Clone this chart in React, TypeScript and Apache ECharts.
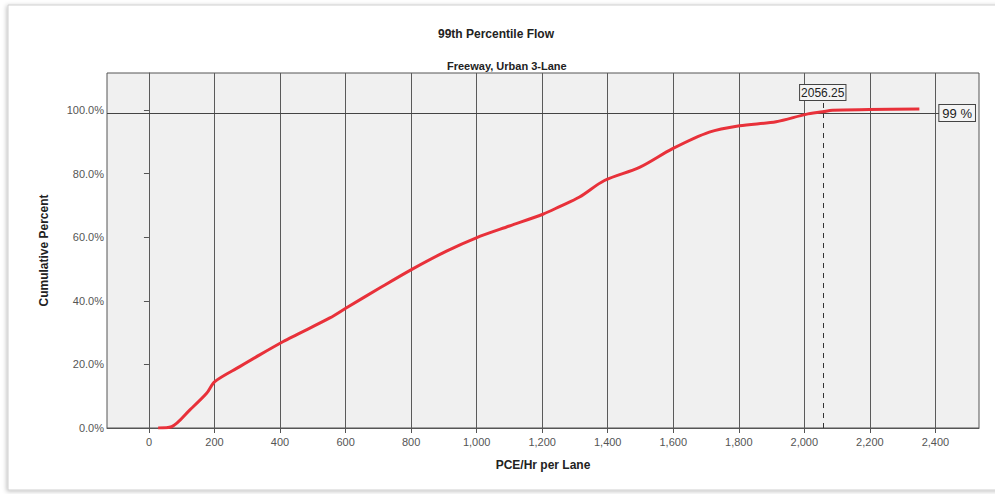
import React, { useEffect, useRef } from "react";
import * as echarts from "echarts";

const titleText = "99th Percentile Flow";
const subtitleText = "Freeway, Urban 3-Lane";
const xName = "PCE/Hr per Lane";
const yName = "Cumulative Percent";

const xTicks = [0, 200, 400, 600, 800, 1000, 1200, 1400, 1600, 1800, 2000, 2200, 2400];
const yTicks = [0, 20, 40, 60, 80, 100];

// [PCE/Hr per Lane, cumulative percent]
const curve: [number, number][] = [
  [28, 0], [69, 0.4], [125, 5.7], [176, 10.9], [201, 14.6], [277, 19.3], [338, 23],
  [410, 27.2], [450, 29.3], [552, 34.6], [603, 37.8], [704, 44], [801, 49.8],
  [908, 55.6], [999, 59.8], [1100, 63.5], [1202, 67.2], [1253, 69.6], [1314, 72.6],
  [1390, 77.8], [1497, 81.9], [1598, 87.8], [1710, 93], [1802, 95], [1914, 96.3],
  [2005, 98.6], [2056, 99.4], [2086, 99.9], [2198, 100.1], [2351, 100.3],
];

const percentile = 99;
const percentileValue = 2056.25;

const xMin = -128;
const xMax = 2533;
const yMax = 111.6;

export default function App() {
  const ref = useRef<HTMLDivElement>(null);
  useEffect(() => {
    if (!ref.current) return;
    const chart = echarts.init(ref.current, null, { renderer: "svg" });
    const font = "'Liberation Sans', Arial, sans-serif";
    chart.setOption({
      animation: false,
      graphic: [
        {
          type: "rect",
          shape: { x: 8, y: 5, width: 1000, height: 485 },
          style: { fill: "#fff", stroke: "#cfcfcf", lineWidth: 1, shadowBlur: 4, shadowColor: "rgba(0,0,0,0.25)", shadowOffsetX: -1, shadowOffsetY: 1 },
          z: -10,
        },
        {
          type: "text",
          left: 503 - 65,
          top: 28,
          style: { text: titleText, font: "bold 12px " + font, fill: "#222" },
        },
        {
          type: "text",
          left: 447,
          top: 60,
          style: { text: subtitleText, font: "bold 11px " + font, fill: "#222" },
        },
      ],
      grid: {
        left: 107,
        top: 73,
        right: 16,
        bottom: 66,
        show: true,
        backgroundColor: "#f0f0f0",
        borderColor: "#555",
        borderWidth: 1,
      },
      xAxis: {
        type: "value",
        min: xMin,
        max: xMax,
        name: xName,
        nameLocation: "middle",
        nameGap: 31,
        nameTextStyle: { fontFamily: font, fontWeight: "bold", fontSize: 12, color: "#222" },
        axisLine: { show: true, onZero: false, lineStyle: { color: "#555" } },
        axisTick: { show: true, length: 5, customValues: xTicks, lineStyle: { color: "#555" } },
        axisLabel: {
          customValues: xTicks,
          fontFamily: font,
          fontSize: 11,
          color: "#555",
          margin: 8,
          formatter: (v: number) => v.toLocaleString("en-US"),
        },
        splitLine: { show: false },
      },
      yAxis: {
        type: "value",
        min: 0,
        max: yMax,
        interval: 20,
        name: yName,
        nameLocation: "middle",
        nameGap: 57,
        nameTextStyle: { fontFamily: font, fontWeight: "bold", fontSize: 12, color: "#222" },
        axisLine: { show: true, lineStyle: { color: "#555" } },
        axisTick: { show: true, length: 5, customValues: yTicks, lineStyle: { color: "#555" } },
        axisLabel: {
          customValues: yTicks,
          fontFamily: font,
          fontSize: 11,
          color: "#555",
          margin: 3,
          formatter: (v: number) => v.toFixed(1) + "%",
        },
        splitLine: { show: false },
      },
      series: [
        {
          type: "line",
          data: [],
          silent: true,
          markLine: {
            silent: true,
            symbol: "none",
            label: { show: false },
            lineStyle: { color: "#5a5a5a", width: 1, type: "solid" },
            data: xTicks.map((v) => ({ xAxis: v })),
          },
        },
        {
          type: "line",
          data: [],
          silent: true,
          markLine: {
            silent: true,
            symbol: "none",
            data: [
              [
                { coord: [xMin, percentile], lineStyle: { color: "#444", width: 1, type: "solid" } },
                {
                  coord: [2412, percentile],
                  label: {
                    show: true,
                    position: "end",
                    distance: 0,
                    formatter: percentile + " %",
                    fontFamily: font,
                    fontSize: 13,
                    color: "#222",
                    backgroundColor: "#f4f4f4",
                    borderColor: "#444",
                    borderWidth: 1,
                    padding: [2, 3, 1, 3],
                    align: "left",
                  },
                },
              ],
              [
                { coord: [percentileValue, 0], lineStyle: { color: "#333", width: 1, type: [5, 5] } },
                {
                  coord: [percentileValue, 102.5],
                  label: {
                    show: true,
                    position: "end",
                    distance: 2,
                    formatter: String(percentileValue),
                    fontFamily: font,
                    fontSize: 12,
                    color: "#222",
                    backgroundColor: "#f4f4f4",
                    borderColor: "#444",
                    borderWidth: 1,
                    padding: [2, 1, 1, 1],
                  },
                },
              ],
            ],
          },
        },
        {
          type: "line",
          data: curve,
          showSymbol: false,
          smooth: 0.3,
          lineStyle: { color: "#e8313a", width: 3 },
          z: 5,
        },
      ],
    });
    return () => chart.dispose();
  }, []);
  return (
    <div
      ref={ref}
      style={{ position: "fixed", left: 0, top: 0, width: 995, height: 494, background: "#fff" }}
    />
  );
}
